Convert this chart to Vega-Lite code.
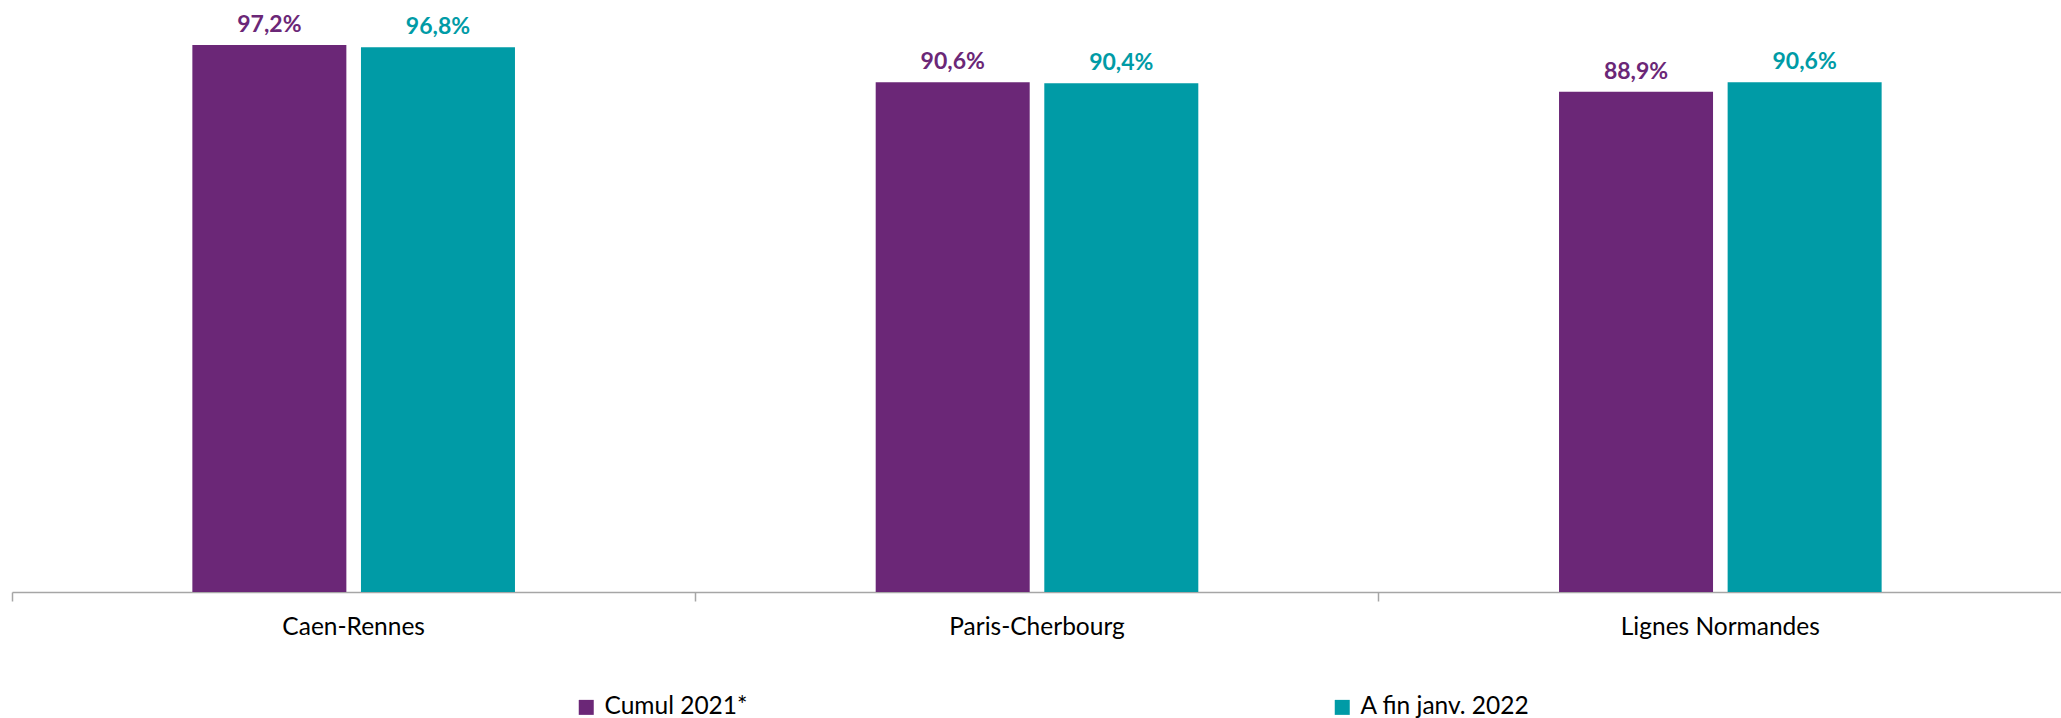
{
  "$schema": "https://vega.github.io/schema/vega-lite/v6.json",
  "width": 2050,
  "height": 592,
  "padding": {"left": 11, "top": 0, "right": 0, "bottom": 0},
  "autosize": {"type": "pad"},
  "background": "white",
  "config": {
    "view": {"stroke": null},
    "locale": {"number": {"decimal": ",", "thousands": " ", "grouping": [3], "currency": ["", " €"], "percent": "%"}}
  },
  "data": {
    "values": [
      {"ligne": "Caen-Rennes", "serie": "Cumul 2021*", "valeur": 0.972},
      {"ligne": "Caen-Rennes", "serie": "A fin janv. 2022", "valeur": 0.968},
      {"ligne": "Paris-Cherbourg", "serie": "Cumul 2021*", "valeur": 0.906},
      {"ligne": "Paris-Cherbourg", "serie": "A fin janv. 2022", "valeur": 0.904},
      {"ligne": "Lignes Normandes", "serie": "Cumul 2021*", "valeur": 0.889},
      {"ligne": "Lignes Normandes", "serie": "A fin janv. 2022", "valeur": 0.906}
    ]
  },
  "layer": [
    {
      "mark": {"type": "bar"},
      "encoding": {
        "x": {"field": "ligne", "type": "nominal", "sort": ["Caen-Rennes", "Paris-Cherbourg", "Lignes Normandes"], "scale": {"paddingInner": 0.0344, "paddingOuter": 0.0172},
          "axis": {"orient": "bottom", "title": null, "ticks": false, "domain": true, "domainColor": "#A6A6A6", "domainWidth": 1.5, "labelFont": "Lato", "labelFontSize": 24.5, "labelColor": "#000000", "labelAngle": 0, "labelPadding": 23, "labelLimit": 600, "grid": false}},
        "xOffset": {"field": "serie", "type": "nominal", "sort": ["Cumul 2021*", "A fin janv. 2022"], "scale": {"type": "band", "paddingInner": 0.0866, "paddingOuter": 1}},
        "y": {"field": "valeur", "type": "quantitative", "scale": {"domain": [0, 1.052], "nice": false, "zero": true}, "axis": null},
        "color": {"field": "serie", "type": "nominal", "sort": ["Cumul 2021*", "A fin janv. 2022"],
          "scale": {"domain": ["Cumul 2021*", "A fin janv. 2022"], "range": ["#6B2777", "#009BA6"]},
          "legend": {"orient": "none", "legendX": 562, "legendY": 695, "direction": "horizontal", "columns": 2, "columnPadding": 582, "symbolType": "square", "symbolSize": 225, "symbolStrokeWidth": 0, "labelFont": "Lato", "labelFontSize": 24.5, "labelColor": "#000000", "labelOffset": 6, "title": null, "labelLimit": 400}}
      }
    },
    {
      "mark": {"type": "text", "font": "Lato", "fontWeight": "bold", "fontSize": 23, "baseline": "alphabetic", "dy": -13},
      "encoding": {
        "x": {"field": "ligne", "type": "nominal", "sort": ["Caen-Rennes", "Paris-Cherbourg", "Lignes Normandes"],
          "axis": {"orient": "bottom", "title": null, "bandPosition": -0.0178, "labels": false, "domain": false, "ticks": true, "tickSize": 9, "tickColor": "#A6A6A6", "tickWidth": 1.5, "grid": false}},
        "xOffset": {"field": "serie", "type": "nominal", "sort": ["Cumul 2021*", "A fin janv. 2022"]},
        "y": {"field": "valeur", "type": "quantitative"},
        "text": {"field": "valeur", "type": "quantitative", "format": ".1%"},
        "color": {"field": "serie", "type": "nominal", "sort": ["Cumul 2021*", "A fin janv. 2022"], "legend": null}
      }
    }
  ],
  "resolve": {"axis": {"x": "independent"}}
}
